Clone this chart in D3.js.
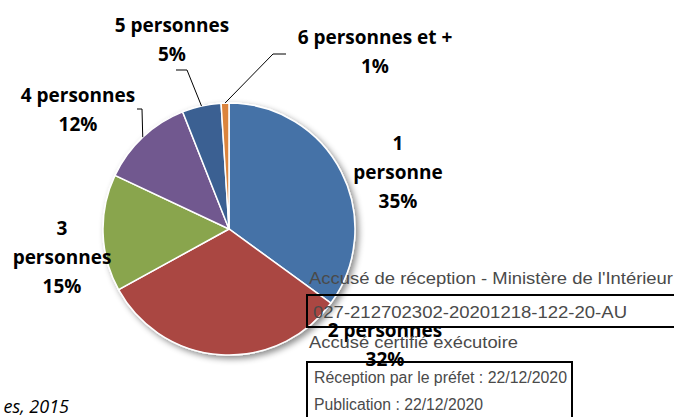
<!DOCTYPE html>
<html>
<head>
<meta charset="utf-8">
<script src="https://cdn.jsdelivr.net/npm/d3@7"></script>
<style>
  body { margin: 0; background: #fff; }
  svg { display: block; }
</style>
</head>
<body>
<div id="chart"></div>
<script>
// Chart data
const categories = ["1 personne", "2 personnes", "3 personnes", "4 personnes", "5 personnes", "6 personnes et +"];
const values = [35, 32, 15, 12, 5, 1];
const colors = ["#4572A7", "#AA4643", "#89A54E", "#71588F", "#3A6192", "#DB843D"];

// Label lines as they are broken in the picture
const labelLines = [
  ["1", "personne", "35%"],
  ["2 personnes", "32%"],
  ["3", "personnes", "15%"],
  ["4 personnes", "12%"],
  ["5 personnes", "5%"],
  ["6 personnes et +", "1%"]
];

// Stamp texts
const stampLines = [
  "Accusé de réception - Ministère de l'Intérieur",
  "027-212702302-20201218-122-20-AU",
  "Accusé certifié exécutoire",
  "Réception par le préfet : 22/12/2020",
  "Publication : 22/12/2020"
];

const width = 674;
const height = 417;
const cx = 229, cy = 229, radius = 126;

// Label placement (x center, first baseline) and leader elbows
const labelPos = [
  { x: 398, y: 150 },
  { x: 385, y: 337 },
  { x: 62, y: 235 },
  { x: 78, y: 102 },
  { x: 172, y: 32 },
  { x: 375, y: 44 }
];
const leaders = [
  null, null, null,
  [[137, 109], [142, 109]],
  [[176, 70], [187, 70]],
  [[286, 54], [273, 54]]
];

const svg = d3.select("#chart")
  .append("svg")
  .attr("width", width)
  .attr("height", height);

// soft shadow under the pie
const defs = svg.append("defs");
const filter = defs.append("filter")
  .attr("id", "shadow")
  .attr("x", "-20%").attr("y", "-20%")
  .attr("width", "140%").attr("height", "140%");
filter.append("feDropShadow")
  .attr("dx", 3).attr("dy", 3)
  .attr("stdDeviation", 3)
  .attr("flood-color", "#000")
  .attr("flood-opacity", 0.45);

const pie = d3.pie().sort(null).value(d => d);
const arcs = pie(values);
const arc = d3.arc().innerRadius(0).outerRadius(radius);

const pieG = svg.append("g")
  .attr("transform", `translate(${cx},${cy})`);

pieG.append("g")
  .attr("filter", "url(#shadow)")
  .selectAll("path")
  .data(arcs)
  .enter()
  .append("path")
  .attr("d", arc)
  .style("fill", (d, i) => colors[i])
  .style("stroke", "#fff")
  .style("stroke-width", 1.5);

// leader lines to the small slices
arcs.forEach(function(d, i) {
  if (!leaders[i]) return;
  const mid = (d.startAngle + d.endAngle) / 2;
  const end = [cx + radius * Math.sin(mid), cy - radius * Math.cos(mid)];
  const pts = leaders[i].concat([end]);
  svg.append("path")
    .attr("d", d3.line()(pts))
    .style("fill", "none")
    .style("stroke", "#000")
    .style("stroke-width", 1);
});

// data labels
labelLines.forEach(function(lines, i) {
  const t = svg.append("text")
    .attr("text-anchor", "middle")
    .style("font-family", "'Open Sans', sans-serif")
    .style("font-weight", "bold")
    .style("font-size", "19px")
    .style("fill", "#000");
  lines.forEach(function(line, j) {
    t.append("tspan")
      .attr("x", labelPos[i].x)
      .attr("y", labelPos[i].y + j * 29)
      .text(line);
  });
});

// source line, cut at the left edge
svg.append("text")
  .attr("x", 69)
  .attr("y", 413)
  .attr("text-anchor", "end")
  .style("font-family", "'Open Sans', sans-serif")
  .style("font-style", "italic")
  .style("font-size", "18px")
  .style("fill", "#000")
  .text("es, 2015");

// stamp overlay
const stamp = svg.append("g");
stamp.append("rect")
  .attr("x", 307).attr("y", 295)
  .attr("width", 420).attr("height", 32)
  .style("fill", "none").style("stroke", "#000").style("stroke-width", 2);
stamp.append("rect")
  .attr("x", 307).attr("y", 362)
  .attr("width", 265).attr("height", 90)
  .style("fill", "none").style("stroke", "#000").style("stroke-width", 2);

const stampPos = [
  { x: 309, y: 284, w: 364 },
  { x: 313, y: 318, w: 314 },
  { x: 309, y: 348, w: 209 },
  { x: 314, y: 383, w: 253 },
  { x: 314, y: 410, w: 169 }
];
stampLines.forEach(function(line, i) {
  stamp.append("text")
    .attr("x", stampPos[i].x)
    .attr("y", stampPos[i].y)
    .attr("textLength", stampPos[i].w)
    .attr("lengthAdjust", "spacingAndGlyphs")
    .style("font-family", "'Liberation Sans', Arial, sans-serif")
    .style("font-size", "16px")
    .style("fill", "#4a4a4a")
    .text(line);
});
</script>
</body>
</html>
